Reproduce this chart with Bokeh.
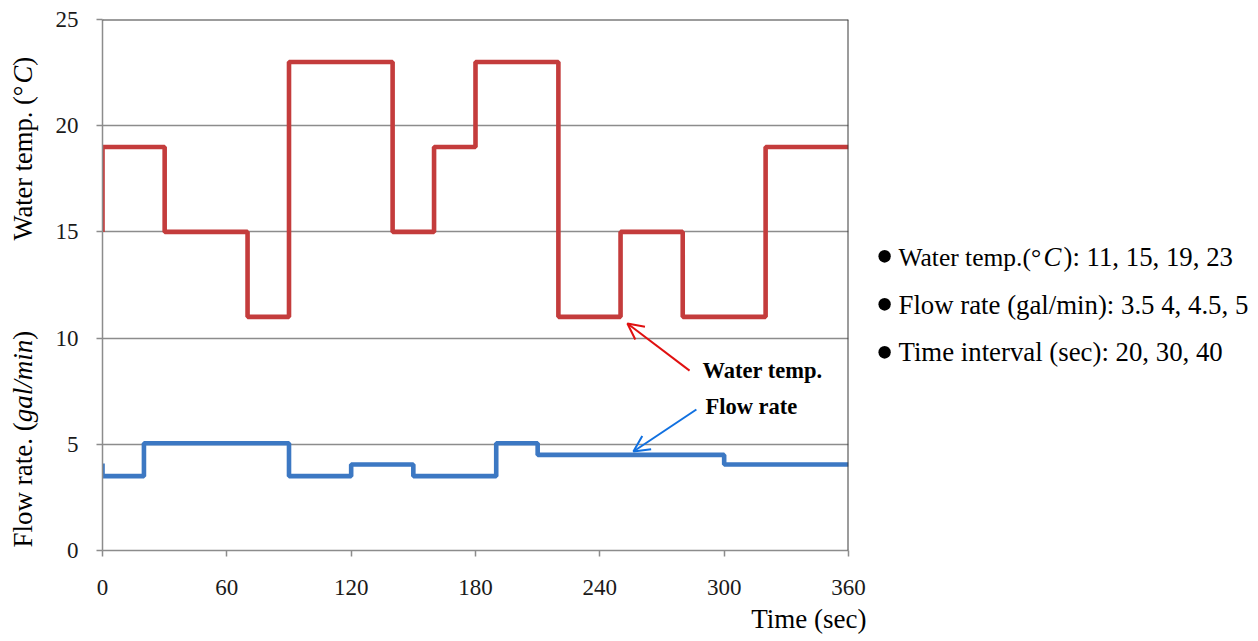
from bokeh.plotting import figure
from bokeh.layouts import row
from bokeh.models import Label, Arrow, OpenHead, Span, FixedTicker, Range1d, Title
from bokeh.embed import file_html
from bokeh.resources import INLINE

# ---- data ----
time_temp = [0, 0, 30, 70, 90, 140, 160, 180, 220, 250, 280, 320, 360]
water_temp = [15, 19, 15, 11, 23, 15, 19, 23, 11, 15, 11, 19, 19]
time_flow = [0, 0, 20, 90, 120, 150, 190, 210, 300, 360]
flow_rate = [4.1, 3.5, 5.05, 3.5, 4.05, 3.5, 5.05, 4.5, 4.05, 4.05]
x_ticks = [0, 60, 120, 180, 240, 300, 360]
y_ticks = [0, 5, 10, 15, 20, 25]
notes = ["Flow rate (gal/min): 3.5 4, 4.5, 5", "Time interval (sec): 20, 30, 40"]

FONT = "Liberation Serif"
H = 640
LW = 50            # left strip width (vertical titles)
MW = 820           # main figure width
RW = 386           # right strip width (notes)
FL, FT, FB = 102, 19, 550  # frame left / top / bottom in page pixels
BASE = 0.36        # baseline correction (em)


def strip(x0, w):
    f = figure(width=w, height=H, x_range=Range1d(x0, x0 + w), y_range=Range1d(FB, FT),
               x_axis_location=None, y_axis_location=None,
               min_border_left=0, min_border_right=0,
               min_border_top=FT, min_border_bottom=H - FB,
               output_backend="svg", toolbar_location=None)
    f.outline_line_color = None
    f.grid.visible = False
    return f


def lab(fig, text, px, py, size, style="normal", angle=0, align="left", units="data"):
    corr = BASE * size
    if angle == 90:
        px = px - corr
    else:
        py = py - corr
    if units == "screen":
        x, y = px - FL, FB - py
    else:
        x, y = px, py
    fig.add_layout(Label(x=x, y=y, x_units=units, y_units=units,
                         text=text, text_font=FONT, text_font_size=f"{size}px",
                         text_font_style=style, angle=angle, angle_units="deg",
                         text_align=align, text_baseline="alphabetic",
                         text_color="black"))


# ---------------- main chart ----------------
p = figure(frame_width=746, frame_height=FB - FT,
           min_border_left=FL - LW, min_border_right=MW - (FL - LW) - 746,
           min_border_top=FT, min_border_bottom=H - FB,
           x_range=Range1d(0, 360), y_range=Range1d(0, 25),
           output_backend="svg", toolbar_location=None)
p.outline_line_color = None

p.xgrid.visible = False
p.ygrid.ticker = FixedTicker(ticks=y_ticks)
p.ygrid.grid_line_color = "#8c8c8c"
p.ygrid.grid_line_width = 1.5

for ax in (p.xaxis[0], p.yaxis[0]):
    ax.axis_line_color = "#8c8c8c"
    ax.axis_line_width = 1.5
    ax.major_tick_line_color = "#8c8c8c"
    ax.major_tick_line_width = 1.5
    ax.major_tick_in = 0
    ax.major_tick_out = 6
    ax.minor_tick_line_color = None
    ax.major_label_text_font = FONT
    ax.major_label_text_font_size = "23px"
    ax.major_label_text_color = "#1a1a1a"
p.xaxis.major_label_standoff = 23
p.yaxis.major_label_standoff = 18
p.xaxis.ticker = FixedTicker(ticks=x_ticks)
p.yaxis.ticker = FixedTicker(ticks=y_ticks)

p.add_layout(Title(text="Time (sec)", align="right", offset=-18, standoff=9,
                   text_font=FONT, text_font_size="27px", text_font_style="normal",
                   text_color="black"), "below")

p.add_layout(Span(location=25, dimension="width", line_color="#3a3a3a", line_width=2))
p.add_layout(Span(location=360, dimension="height", line_color="#3a3a3a", line_width=2))

p.step(time_temp, water_temp, mode="after", line_color="#c43c3c", line_width=4.6)
p.step(time_flow, flow_rate, mode="after", line_color="#3c78c3", line_width=4.6)

lab(p, "Water temp.", 702, 378, 22.5, style="bold", units="screen")
lab(p, "Flow rate", 705, 414, 22.5, style="bold", units="screen")
p.add_layout(Arrow(end=OpenHead(size=16, line_color="#e01010", line_width=2),
                   x_start=283.3, y_start=8.47, x_end=253.3, y_end=10.69,
                   line_color="#e01010", line_width=2))
p.add_layout(Arrow(end=OpenHead(size=16, line_color="#1070e0", line_width=2),
                   x_start=286.6, y_start=6.64, x_end=256.2, y_end=4.66,
                   line_color="#1070e0", line_width=2))

# ---------------- left strip: vertical axis titles ----------------
left = strip(0, LW)
lab(left, "Water temp. (°", 32, 240, 26.5, angle=90)
lab(left, "C", 32, 240 - 5926 * 0.0265, 26.5, style="italic", angle=90)
lab(left, ")", 32, 240 - 6593 * 0.0265, 26.5, angle=90)
lab(left, "Flow rate. (", 32, 547, 27, angle=90)
lab(left, "gal/min", 32, 547 - 4638 * 0.027, 27, style="italic", angle=90)
lab(left, ")", 32, 547 - 7694 * 0.027, 27, angle=90)

# ---------------- right strip: notes ----------------
right = strip(LW + MW, RW)
for c in [258, 306, 354]:
    right.add_layout(Label(x=875, y=c - 2, text="•", text_font=FONT, text_font_size="52px",
                           text_baseline="alphabetic", text_align="left", text_color="black"))
lab(right, "Water temp.(°", 898, 266.5, 25.5)
lab(right, "C", 1043, 266.5, 26.8, style="italic")
lab(right, "): 11, 15, 19, 23", 1063, 266.5, 26.8)
lab(right, notes[0], 898, 314, 26.8)
lab(right, notes[1], 898, 361.5, 26.8)

layout = row(left, p, right, spacing=0)
open("out.html", "w").write(file_html(layout, INLINE))
